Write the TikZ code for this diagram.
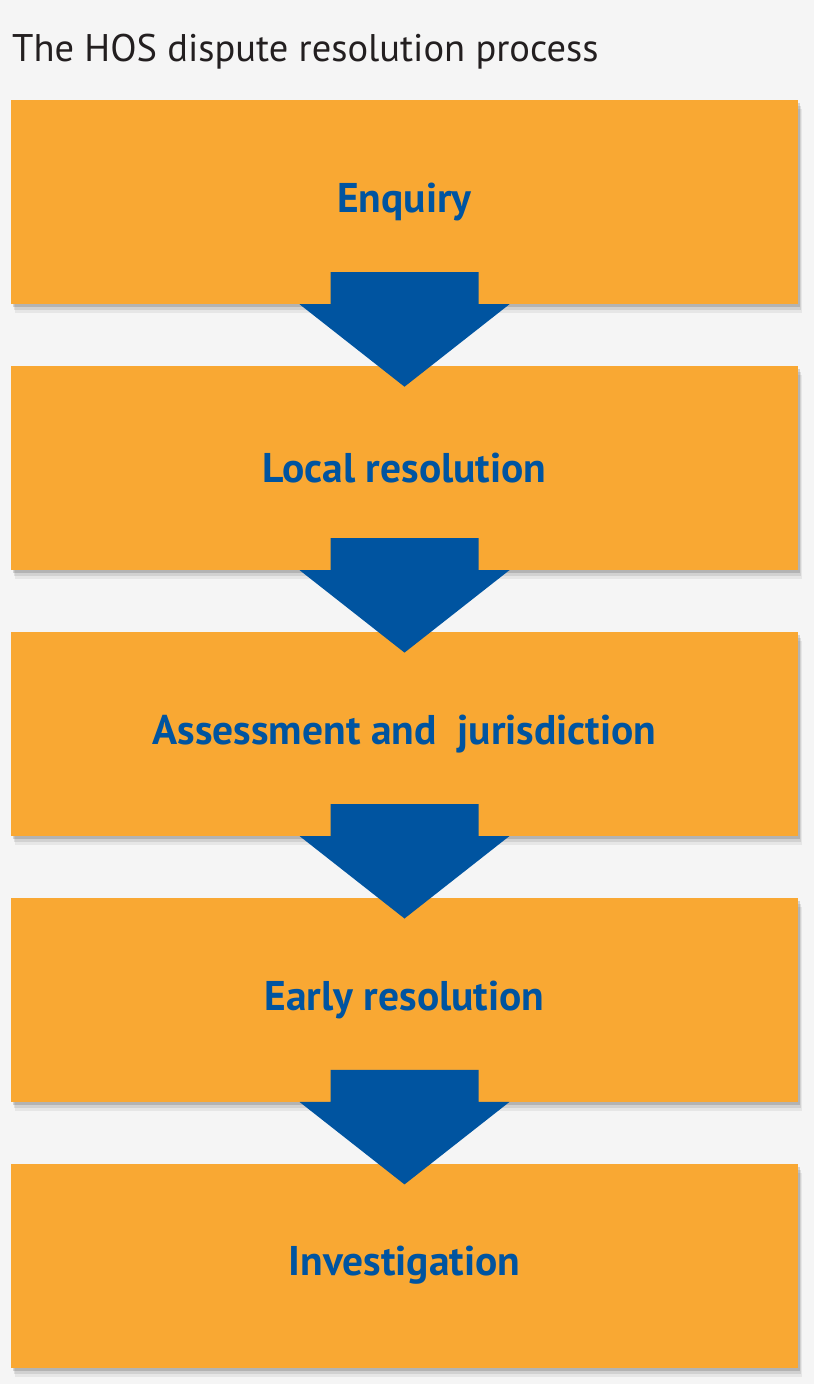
\documentclass[tikz,border=0pt]{standalone}
\usepackage{fontspec}
\setmainfont{PT Sans}
\usetikzlibrary{calc,positioning,shadows}

\definecolor{hosorange}{HTML}{F9A833}
\definecolor{hosblue}{HTML}{0054A0}
\definecolor{hosgray}{HTML}{F5F5F5}
\definecolor{hosdark}{HTML}{231F20}

\begin{document}
\begin{tikzpicture}[
  x=1pt,y=1pt,
  node distance=61.5pt,
  stage/.style={rectangle,fill=hosorange,minimum width=787pt,minimum height=204pt,inner sep=0pt,
    font=\fontsize{41.5}{46}\selectfont\bfseries,text=hosblue,
    general shadow={fill=black,opacity=.06,shadow xshift=3.5pt,shadow yshift=-9pt},
    general shadow={fill=black,opacity=.09,shadow xshift=2.5pt,shadow yshift=-6pt},
    general shadow={fill=black,opacity=.14,shadow xshift=1.5pt,shadow yshift=-3pt}},
  ttl/.style={font=\fontsize{38.5}{44}\selectfont,text=hosdark,inner sep=0pt,anchor=base west},
  bigarrow/.style={fill=hosblue,to path={
    ($(\tikztostart.south)+(-74,32)$) -- ($(\tikztostart.south)+(74,32)$) --
    ($(\tikztostart.south)+(74,0)$) -- ($(\tikztostart.south)+(105,0)$) --
    ($(\tikztotarget.north)+(0,-21)$) -- ($(\tikztostart.south)+(-105,0)$) --
    ($(\tikztostart.south)+(-74,0)$) -- cycle}}
]

% Background and page size
\fill[hosgray] (0,0) rectangle (814,-1384);
\useasboundingbox (0,0) rectangle (814,-1384);

% Title
\node[ttl] (title) at (12,-61) {The HOS dispute resolution process};

% Stages
\node[stage] (enq) at (404.5,-202) {Enquiry};
\node[stage,below=of enq] (loc) {Local resolution};
\node[stage,below=of loc] (ass) {Assessment and~ jurisdiction};
\node[stage,below=of ass] (early) {Early resolution};
\node[stage,below=of early] (inv) {Investigation};

% Arrows between stages
\path[bigarrow] (enq) to (loc);
\path[bigarrow] (loc) to (ass);
\path[bigarrow] (ass) to (early);
\path[bigarrow] (early) to (inv);

\end{tikzpicture}
\end{document}
